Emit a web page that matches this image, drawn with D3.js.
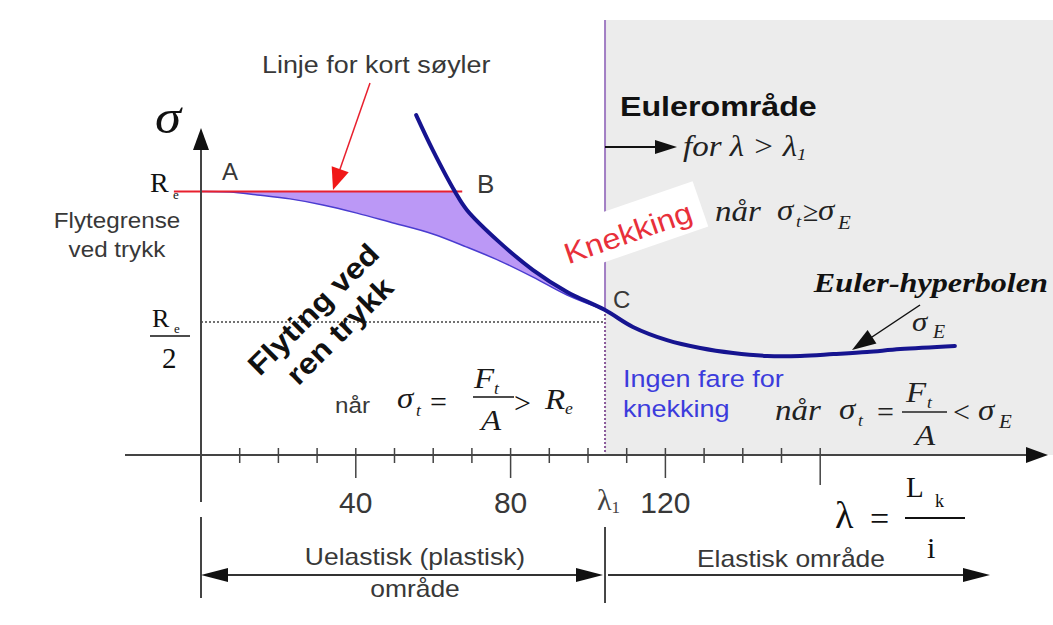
<!DOCTYPE html>
<html>
<head>
<meta charset="utf-8">
<script src="https://cdn.jsdelivr.net/npm/d3@7"></script>
<style>
  body { margin: 0; background: #fff; }
</style>
</head>
<body>
<svg id="chart" width="1053" height="625"></svg>
<script>
// slenderness lambda and compressive stress given as a fraction of Re
var lambda1 = 104.4;
var lambdaB = 65.6;
var sigmaC = 0.55;

// Euler hyperbola
var eulerLambda = [55.6, 59.9, 65.6, 68.7, 77.3, 85.8, 94.6, 104.4, 111.6, 120.4, 129, 137.5, 146.3, 154.9, 163.4, 172.1, 180.7, 194.8];
var eulerSigma = [1.29, 1.157, 1.0, 0.93, 0.805, 0.702, 0.619, 0.55, 0.486, 0.436, 0.406, 0.387, 0.376, 0.376, 0.383, 0.391, 0.402, 0.414];

// inelastic buckling curve from A to C
var inelasticLambda = [0, 7.5, 14.5, 23, 31.5, 40.3, 48.8, 59.9, 68.7, 77.3, 85.8, 94.6, 104.4];
var inelasticSigma = [1, 0.998, 0.987, 0.972, 0.949, 0.918, 0.884, 0.839, 0.789, 0.736, 0.675, 0.607, 0.55];

// short column line (sigma = Re)
var shortLambda = [-7, 67.5];
var shortSigma = [1, 1];

var minorTicks = [10, 20, 30, 50, 60, 70, 90, 100, 110, 130, 140, 150];
var majorTicks = [40, 80, 120, 160];
var tickLabels = ["40", "80", "120"];

var SANS = "'Liberation Sans', Arial, sans-serif";
var SERIF = "'Liberation Serif', 'Times New Roman', serif";

var svg = d3.select("#chart");

var x = d3.scaleLinear().domain([0, 200]).range([201, 975]);
var y = d3.scaleLinear().domain([0, 1]).range([455, 191.5]);

function pts(xs, ys) {
  return xs.map(function(v, i) { return [v, ys[i]]; });
}
var euler = pts(eulerLambda, eulerSigma);
var inelastic = pts(inelasticLambda, inelasticSigma);

var line = d3.line()
  .x(function(d) { return x(d[0]); })
  .y(function(d) { return y(d[1]); })
  .curve(d3.curveCatmullRom);

function arrowHead(tx, ty, fx, fy, len, hw, color) {
  var dx = tx - fx, dy = ty - fy, d = Math.hypot(dx, dy);
  var ux = dx / d, uy = dy / d;
  var bx = tx - ux * len, by = ty - uy * len;
  svg.append("path")
    .attr("d", "M" + tx + "," + ty + "L" + (bx - uy * hw) + "," + (by + ux * hw) +
      "L" + (bx + uy * hw) + "," + (by - ux * hw) + "Z")
    .attr("fill", color);
}

function seg(x1, y1, x2, y2, color, w, dash) {
  return svg.append("line")
    .attr("x1", x1).attr("y1", y1).attr("x2", x2).attr("y2", y2)
    .attr("stroke", color).attr("stroke-width", w || 1.5)
    .attr("stroke-dasharray", dash || null);
}

function label(px, py, str, o) {
  o = o || {};
  var g = svg.append("g")
    .attr("transform", "translate(" + px + "," + py + ")" +
      (o.rot ? " rotate(" + o.rot + ")" : "") + " scale(" + (o.sx || 1) + ",1)");
  return g.append("text")
    .attr("font-family", o.ff || SANS)
    .attr("font-size", o.fs || 22)
    .attr("font-style", o.it ? "italic" : null)
    .attr("font-weight", o.bold ? "bold" : null)
    .attr("fill", o.fill || "#383838")
    .attr("text-anchor", o.anchor || "start")
    .text(str);
}
// italic math symbol, shortcut
function math(px, py, str, fs, extra) {
  var o = { ff: SERIF, fs: fs, it: true, fill: "#1a1a1a", sx: 1.1 };
  if (extra) Object.assign(o, extra);
  return label(px, py, str, o);
}

// Euler region background
svg.append("rect")
  .attr("x", x(lambda1)).attr("y", 20)
  .attr("width", 1053 - x(lambda1)).attr("height", y(0) - 20)
  .attr("fill", "#ececec");

// lambda1 boundary
seg(x(lambda1), 20, x(lambda1), y(sigmaC), "#a27fc4", 2);
seg(x(lambda1), y(sigmaC), x(lambda1), y(0), "#8a5a9a", 2, "2,2");
// Re/2 dotted line
seg(x(0), y(0.505), x(lambda1), y(0.505), "#444", 1.5, "2,2");

// filled zone between short-column line, Euler curve and inelastic curve
var eulerPart = euler.filter(function(d) { return d[0] >= lambdaB && d[0] <= lambda1; });
var fillPath = "M" + x(0) + "," + y(1) + "L" + x(lambdaB) + "," + y(1) +
  line(eulerPart).replace(/^M/, "L") +
  line(inelastic.slice().reverse()).replace(/^M/, "L") + "Z";
svg.append("path").attr("d", fillPath).attr("fill", "#bb98f6");

svg.append("path").attr("d", line(inelastic))
  .attr("fill", "none").attr("stroke", "#4a3cd0").attr("stroke-width", 1.5);

svg.append("path").attr("d", line(pts(shortLambda, shortSigma)))
  .attr("fill", "none").attr("stroke", "#e8202e").attr("stroke-width", 2.2);

svg.append("path").attr("d", line(euler))
  .attr("fill", "none").attr("stroke", "#161490").attr("stroke-width", 4)
  .attr("stroke-linecap", "round");

// axes
seg(x(0), 140, x(0), 502, "#444", 2);
arrowHead(x(0), 128, x(0), 200, 22, 8, "#111");
seg(125, y(0), 1030, y(0), "#444", 2);
arrowHead(1048, y(0), 900, y(0), 22, 8, "#111");

minorTicks.forEach(function(t) { seg(x(t), 448, x(t), 463, "#444", 1.5); });
majorTicks.forEach(function(t) { seg(x(t), 448, x(t), t === 160 ? 485 : 478, "#444", 1.5); });
tickLabels.forEach(function(s, i) {
  label(x(majorTicks[i]), 513, s, { fs: 30, anchor: "middle" });
});
var l1 = label(x(lambda1) - 8, 510, "\u03bb", { ff: SERIF, fs: 30, fill: "#444" });
l1.append("tspan").attr("font-size", 17).attr("dy", 3).text("1");

// axis names
label(155, 133, "\u03c3", { ff: SERIF, fs: 48, it: true, fill: "#111", sx: 1.1 });
label(835, 528, "\u03bb", { ff: SERIF, fs: 38, fill: "#111" });
label(870, 530, "=", { ff: SERIF, fs: 34, fill: "#111" });
seg(905, 518, 965, 518, "#111", 1.8);
label(906, 497, "L", { ff: SERIF, fs: 29, fill: "#111" });
label(935, 507, "k", { ff: SERIF, fs: 18, fill: "#111" });
label(927, 558, "i", { ff: SERIF, fs: 30, fill: "#111" });

// Re labels on the sigma axis
label(150, 192, "R", { ff: SERIF, fs: 28, fill: "#111" });
label(173, 199, "e", { ff: SERIF, fs: 13, fill: "#111" });
label(152, 327, "R", { ff: SERIF, fs: 26, fill: "#111" });
label(174, 333, "e", { ff: SERIF, fs: 13, fill: "#111" });
seg(150, 336, 190, 336, "#111", 1.5);
label(162, 368, "2", { ff: SERIF, fs: 29, fill: "#111" });

label(117, 228, "Flytegrense", { fs: 22, anchor: "middle", sx: 1.1 });
label(117, 257, "ved trykk", { fs: 22, anchor: "middle", sx: 1.1 });

// point labels
label(222, 180, "A", { fs: 24 });
label(477, 193, "B", { fs: 26 });
label(613, 308, "C", { fs: 24 });

// short column annotation
label(262, 73, "Linje for kort s\u00f8yler", { fs: 24, sx: 1.12 });
seg(370, 83, 339, 172, "#e8202e", 1.5);
arrowHead(333, 190, 370, 83, 22, 9, "#f01818");

// rotated label in the yield zone
var fl = svg.append("g").attr("transform", "translate(326,322) rotate(-45) scale(1.12,1)");
fl.append("text").attr("y", -8).attr("text-anchor", "middle").attr("font-family", SANS)
  .attr("font-size", 29).attr("font-weight", "bold").attr("fill", "#111").text("Flyting ved");
fl.append("text").attr("x", 3).attr("y", 26).attr("text-anchor", "middle").attr("font-family", SANS)
  .attr("font-size", 29).attr("font-weight", "bold").attr("fill", "#111").text("ren trykk");

// left condition
label(335, 413, "n\u00e5r", { fs: 22, sx: 1.1 });
math(397, 408, "\u03c3", 30);
math(416, 416, "t", 16);
label(430, 412, "=", { ff: SERIF, fs: 30, fill: "#111" });
math(474, 388, "F", 30);
math(494, 394, "t", 16);
seg(473, 397, 514, 397, "#111", 1.5);
math(481, 430, "A", 30);
label(514, 413, ">", { ff: SERIF, fs: 30, fill: "#111" });
math(545, 409, "R", 30);
math(565, 414, "e", 16);

// Euler region header
label(620, 116, "Euleromr\u00e5de", { fs: 28, bold: true, fill: "#111", sx: 1.15 });
seg(605, 147, 660, 147, "#111", 2);
arrowHead(677, 147, 605, 147, 22, 7, "#111");
var fo = math(683, 156, "for \u03bb > \u03bb", 30, { fill: "#222" });
fo.append("tspan").attr("font-size", 17).attr("dy", 4).text("1");

// Knekking label on a white card
var kn = svg.append("g").attr("transform", "translate(628,233) rotate(-19)");
kn.append("rect").attr("x", -78).attr("y", -28).attr("width", 156).attr("height", 48).attr("fill", "#fff");
kn.append("text").attr("transform", "scale(1.12,1)").attr("y", 10).attr("text-anchor", "middle")
  .attr("font-family", SANS).attr("font-size", 29).attr("fill", "#e8303a").text("Knekking");

math(715, 221, "n\u00e5r", 30, { fill: "#222" });
math(777, 220, "\u03c3", 30, { fill: "#222" });
math(796, 227, "t", 17, { fill: "#222" });
label(803, 221, "\u2265", { ff: SERIF, fs: 28, fill: "#222" });
math(818, 220, "\u03c3", 30, { fill: "#222" });
math(838, 229, "E", 19, { fill: "#222" });

// Euler hyperbola label
label(1048, 292, "Euler-hyperbolen", { ff: SERIF, fs: 28, it: true, bold: true, fill: "#111", anchor: "end", sx: 1.15 });
seg(920, 305, 866, 341, "#111", 1.5);
arrowHead(852, 350, 920, 305, 24, 8, "#111");
math(912, 331, "\u03c3", 28, { fill: "#222" });
math(933, 338, "E", 18, { fill: "#222" });

// elastic zone text
label(623, 387, "Ingen fare for", { fs: 23.5, sx: 1.15, fill: "#3c3cdc" });
label(623, 417, "knekking", { fs: 23.5, sx: 1.15, fill: "#3c3cdc" });

math(775, 420, "n\u00e5r", 30, { fill: "#222" });
math(839, 419, "\u03c3", 30, { fill: "#222" });
math(858, 426, "t", 16, { fill: "#222" });
label(877, 422, "=", { ff: SERIF, fs: 30, fill: "#222" });
math(906, 402, "F", 30, { fill: "#222" });
math(927, 408, "t", 16, { fill: "#222" });
seg(902, 412, 947, 412, "#222", 1.5);
math(915, 445, "A", 30, { fill: "#222" });
label(953, 422, "<", { ff: SERIF, fs: 30, fill: "#222" });
math(978, 420, "\u03c3", 30, { fill: "#222" });
math(999, 428, "E", 19, { fill: "#222" });

// range dimension lines
seg(x(0), 517, x(0), 598, "#444", 2);
seg(x(lambda1), 527, x(lambda1), 603, "#444", 2);
seg(222, 575, 582, 575, "#333", 1.8);
arrowHead(x(0), 575, 300, 575, 27, 7, "#111");
arrowHead(x(lambda1) - 2, 575, 300, 575, 27, 7, "#111");
seg(x(lambda1) + 3, 575, 968, 575, "#333", 1.8);
arrowHead(990, 575, 700, 575, 27, 7, "#111");

label(415, 565, "Uelastisk (plastisk)", { fs: 23, sx: 1.15, anchor: "middle" });
label(415, 597, "omr\u00e5de", { fs: 23, sx: 1.15, anchor: "middle" });
label(791, 567, "Elastisk omr\u00e5de", { fs: 23, sx: 1.15, anchor: "middle" });
</script>
</body>
</html>
